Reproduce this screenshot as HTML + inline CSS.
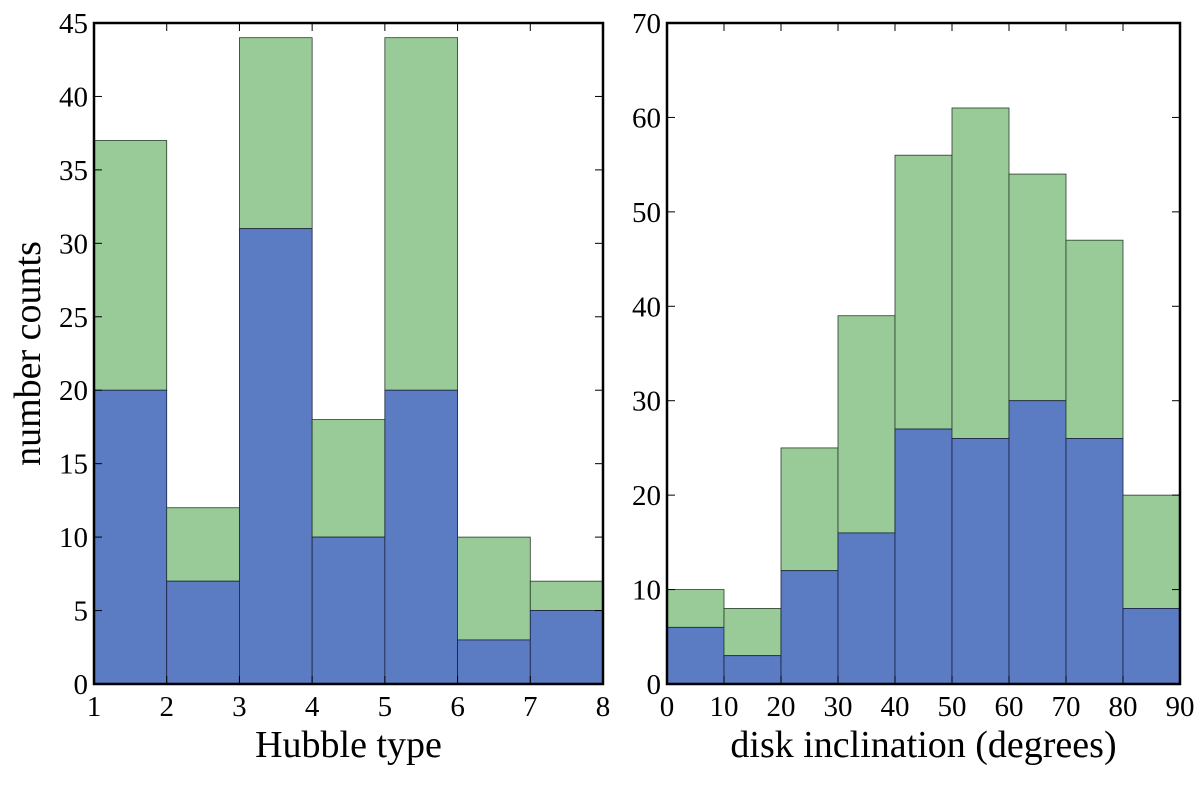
<!DOCTYPE html>
<html><head><meta charset="utf-8"><style>
body{margin:0;background:#fff;}
svg text{font-family:"Liberation Serif",serif;fill:#000;}
</style></head><body>
<svg id="c" width="1200" height="783" xmlns="http://www.w3.org/2000/svg"></svg>
<script>
const hubbleBins=[1,2,3,4,5,6,7,8];
const hubbleBlue=[20,7,31,10,20,3,5];
const hubbleTotal=[37,12,44,18,44,10,7];
const hubbleXTicks=[1,2,3,4,5,6,7,8];
const hubbleYTicks=[0,5,10,15,20,25,30,35,40,45];
const inclBins=[0,10,20,30,40,50,60,70,80,90];
const inclBlue=[6,3,12,16,27,26,30,26,8];
const inclTotal=[10,8,25,39,56,61,54,47,20];
const inclXTicks=[0,10,20,30,40,50,60,70,80,90];
const inclYTicks=[0,10,20,30,40,50,60,70];

const svg=document.getElementById('c');
const NS='http://www.w3.org/2000/svg';
function mk(tag,attrs,parent){const e=document.createElementNS(NS,tag);for(const k in attrs)e.setAttribute(k,attrs[k]);(parent||svg).appendChild(e);return e;}

function panel(name,L,R,T,B,xmin,xmax,ymax,bins,blue,total,xt,yt,xlabel,ylabel){
  const g=mk('g',{});
  
  
  const sx=v=>L+(v-xmin)/(xmax-xmin)*(R-L);
  const sy=v=>B-v/ymax*(B-T);
  for(let i=0;i<blue.length;i++){
    const x0=sx(bins[i]),x1=sx(bins[i+1]);
    const gr=mk('rect',{x:x0,y:sy(total[i]),width:x1-x0,height:sy(blue[i])-sy(total[i]),fill:'#98cb98',stroke:'#2a3a2a','stroke-width':0.8},g);
    
    
    const br=mk('rect',{x:x0,y:sy(blue[i]),width:x1-x0,height:B-sy(blue[i]),fill:'#5b7bc3',stroke:'#1a2040','stroke-width':0.8},g);
    
    
  }
  const fr=mk('rect',{x:L,y:T,width:R-L,height:B-T,fill:'none',stroke:'#000','stroke-width':2.5},g);
  
  
  xt.forEach(v=>{
    const x=sx(v);
    mk('line',{x1:x,x2:x,y1:B,y2:B-8,stroke:'#000','stroke-width':1},g);
    mk('line',{x1:x,x2:x,y1:T,y2:T+8,stroke:'#000','stroke-width':1},g);
    const t=mk('text',{x:x,y:B+32,'text-anchor':'middle','font-size':29},g);
    t.textContent=v;
    
    
  });
  yt.forEach(v=>{
    const y=sy(v);
    mk('line',{x1:L,x2:L+8,y1:y,y2:y,stroke:'#000','stroke-width':1},g);
    mk('line',{x1:R,x2:R-8,y1:y,y2:y,stroke:'#000','stroke-width':1},g);
    const t=mk('text',{x:L-6,y:y+10,'text-anchor':'end','font-size':29},g);
    t.textContent=v;
    
    
  });
  const xl=mk('text',{x:(L+R)/2,y:757,'text-anchor':'middle','font-size':38},g);
  xl.textContent=xlabel;
  
  
  if(ylabel){
    const yl=mk('text',{x:0,y:0,'text-anchor':'middle','font-size':38,transform:'translate(40,'+((T+B)/2)+') rotate(-90)'},g);
    yl.textContent=ylabel;
    
    
  }
}
panel('hubble-type-panel',94,603,23,684,1,8,45,hubbleBins,hubbleBlue,hubbleTotal,hubbleXTicks,hubbleYTicks,'Hubble type','number counts');
panel('inclination-panel',667,1180,23,684,0,90,70,inclBins,inclBlue,inclTotal,inclXTicks,inclYTicks,'disk inclination (degrees)',null);
</script>
</body></html>
